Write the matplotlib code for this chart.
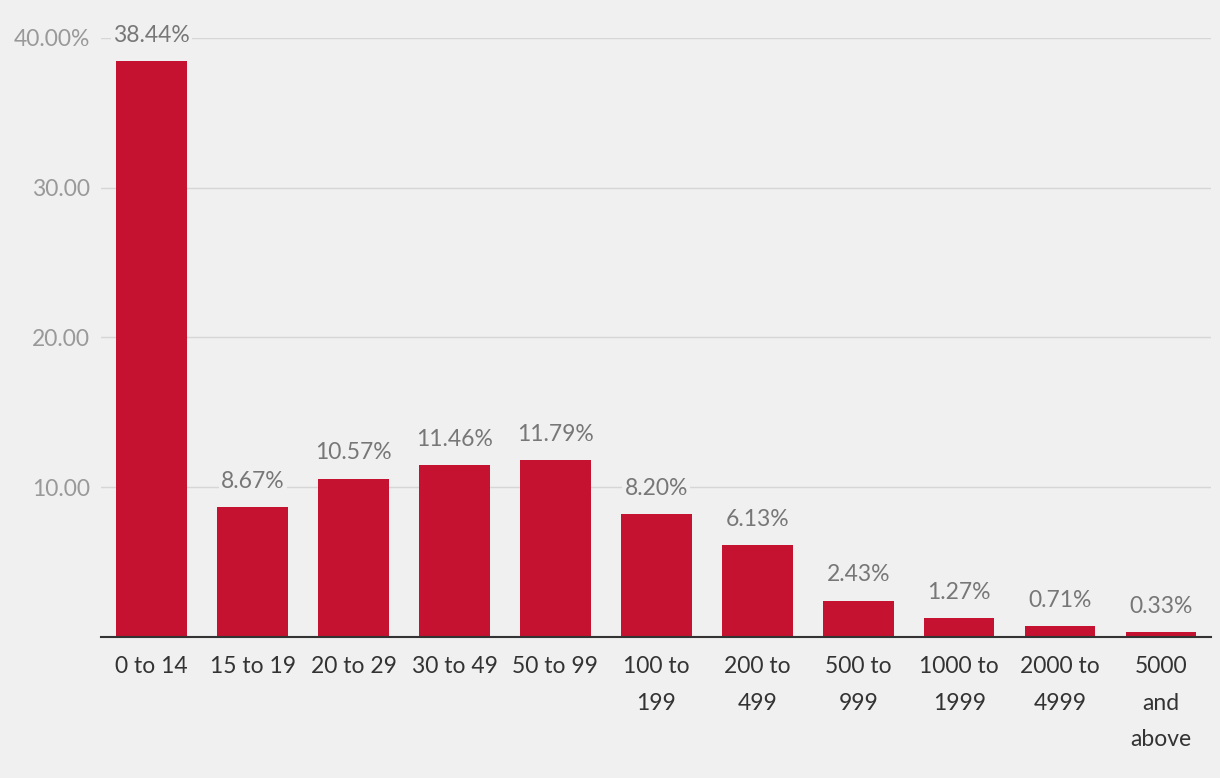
import matplotlib.pyplot as plt

categories = ['0 to 14', '15 to 19', '20 to 29', '30 to 49', '50 to 99', '100 to\n199',
              '200 to\n499', '500 to\n999', '1000 to\n1999', '2000 to\n4999', '5000\nand\nabove']
values = [38.44, 8.67, 10.57, 11.46, 11.79, 8.20, 6.13, 2.43, 1.27, 0.71, 0.33]
yticks = [10, 20, 30, 40]
ytick_labels = ['10.00', '20.00', '30.00', '40.00%']

plt.rcParams['font.family'] = ['Lato', 'DejaVu Sans']
bg = '#f0f0f0'

fig = plt.figure(figsize=(12.2, 7.78), dpi=100, facecolor=bg)
ax = fig.add_axes([0.083, 0.1812, 0.91, 0.77])
ax.set_facecolor(bg)

x = range(len(values))
ax.bar(x, values, width=0.70, color='#c41230', zorder=3)

for xi, v in zip(x, values):
    ax.annotate(f'{v:.2f}%', (xi, v), xytext=(0, 11), textcoords='offset points',
                ha='center', va='bottom', fontsize=16.5, color='#777777', zorder=4,
                bbox=dict(boxstyle='square,pad=0.1', fc=bg, ec='none'))

ax.set_xlim(-0.5, len(values) - 0.5)
ax.set_ylim(0, 40)
ax.set_yticks(yticks)
ax.set_yticklabels(ytick_labels, fontsize=16.5, color='#999999')
ax.set_xticks(list(x))
ax.set_xticklabels(categories, fontsize=16.5, color='#333333', linespacing=1.9)
ax.tick_params(axis='both', length=0)
ax.tick_params(axis='y', pad=8)
ax.tick_params(axis='x', pad=14)
ax.grid(axis='y', color='#d6d6d6', linewidth=1, zorder=0)
for s in ['top', 'right', 'left']:
    ax.spines[s].set_visible(False)
ax.spines['bottom'].set_color('#333333')
ax.spines['bottom'].set_linewidth(1.5)
ax.spines['bottom'].set_zorder(5)

fig.savefig('out.png', facecolor=bg)
